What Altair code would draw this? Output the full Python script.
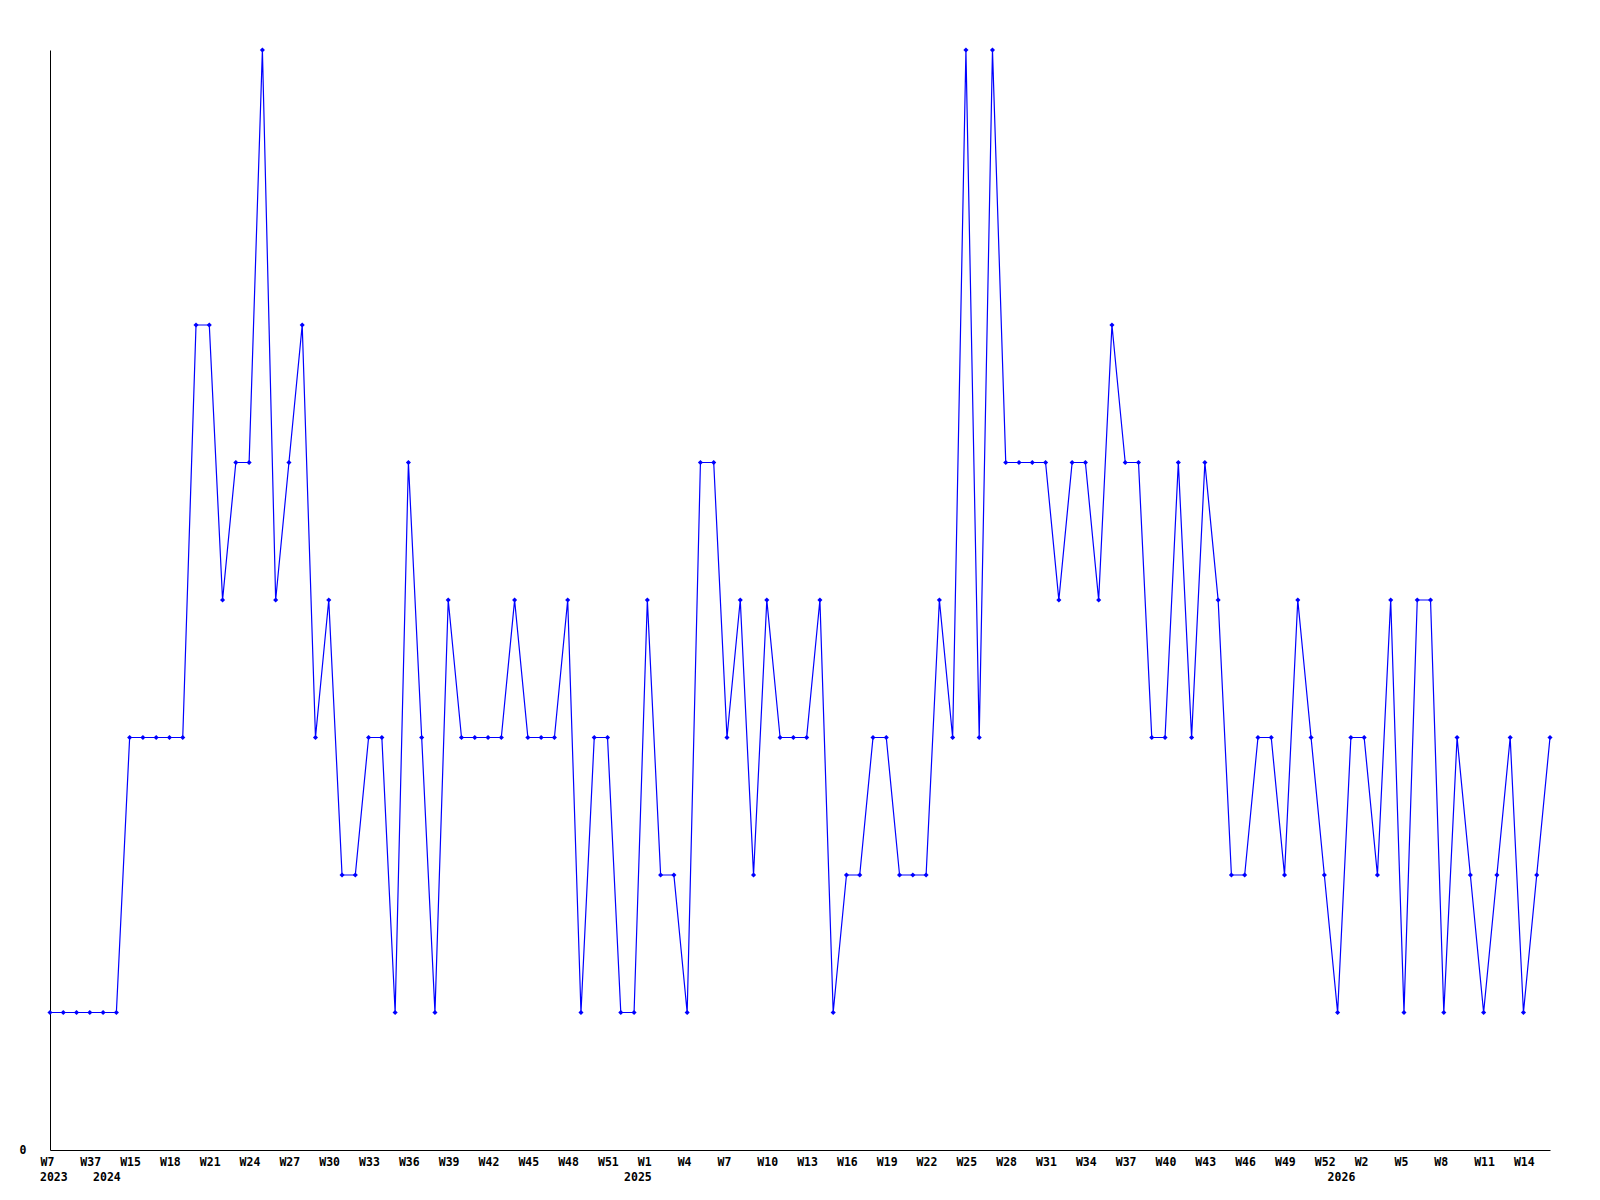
import altair as alt
import pandas as pd

# weekly values, one per point (evenly spaced on the x axis)
values = [
    1, 1, 1, 1, 1, 1,
    3, 3, 3, 3, 3,
    6, 6, 4, 5, 5, 8, 4, 5, 6, 3, 4, 2, 2, 3, 3, 1, 5, 3, 1, 4,
    3, 3, 3, 3, 4, 3, 3, 3, 4, 1, 3, 3, 1, 1, 4, 2, 2, 1, 5, 5,
    3, 4, 2, 4, 3, 3, 3, 4, 1, 2, 2, 3, 3, 2, 2, 2, 4, 3, 8, 3,
    8, 5, 5, 5, 5, 4, 5, 5, 4, 6, 5, 5, 3, 3, 5, 3, 5, 4, 2, 2,
    3, 3, 2, 4, 3, 2, 1, 3, 3, 2, 4, 1, 4, 4, 1, 3, 2, 1, 2, 3,
    1, 2, 3,
]

# x-axis week labels (every third point)
tick_labels = [
    "W7", "W37", "W15", "W18", "W21", "W24", "W27", "W30", "W33", "W36",
    "W39", "W42", "W45", "W48", "W51", "W1", "W4", "W7", "W10", "W13",
    "W16", "W19", "W22", "W25", "W28", "W31", "W34", "W37", "W40", "W43",
    "W46", "W49", "W52", "W2", "W5", "W8", "W11", "W14",
]
tick_index = list(range(0, len(values), 3))

# year labels and the point where each year starts
year_labels = ["2023", "2024", "2025", "2026"]
year_index = [0, 4, 44, 97]

df = pd.DataFrame({"i": list(range(len(values))), "v": values})
years = pd.DataFrame({"i": year_index, "year": year_labels})

FONT = "DejaVu Sans Mono"
W, H = 1500, 1100
n = len(values)
PAD = 6

label_expr = "[" + ",".join("'%s'" % t for t in tick_labels) + "][round(datum.value / 3)]"

xscale = alt.Scale(domain=[0, n - 1], nice=False, zero=False)
yscale = alt.Scale(domain=[0, 8], nice=False)

x_enc = alt.X(
    "i:Q",
    scale=xscale,
    axis=alt.Axis(
        values=tick_index,
        labelExpr=label_expr,
        title=None,
        grid=False,
        ticks=False,
        domainColor="black",
        domainWidth=1,
        labelFont=FONT,
        labelFontWeight="bold",
        labelFontSize=11.5,
        labelColor="black",
        labelAlign="left",
        labelOffset=-10,
        labelBaseline="top",
        labelPadding=PAD,
        labelOverlap=False,
        labelFlush=False,
    ),
)
y_enc = alt.Y(
    "v:Q",
    scale=yscale,
    axis=alt.Axis(
        values=[0],
        format="d",
        title=None,
        grid=False,
        ticks=False,
        domainColor="black",
        domainWidth=1,
        labelFont=FONT,
        labelFontWeight="bold",
        labelFontSize=11.5,
        labelColor="black",
        labelPadding=24,
        labelBaseline="middle",
    ),
)

line = alt.Chart(df).mark_line(color="#0000FF", strokeWidth=1.2).encode(x=x_enc, y=y_enc)
pts = alt.Chart(df).mark_point(
    shape="diamond", filled=True, color="#0000FF", size=26, opacity=1
).encode(x=alt.X("i:Q", scale=xscale), y=alt.Y("v:Q", scale=yscale))

year_text = alt.Chart(years).mark_text(
    font=FONT,
    fontWeight="bold",
    fontSize=11.5,
    color="black",
    align="left",
    baseline="top",
    dx=-10,
).encode(
    x=alt.X("i:Q", scale=xscale),
    y=alt.value(H + PAD + 15.5),
    text="year:N",
)

chart = (
    alt.layer(line, pts, year_text)
    .properties(
        width=W,
        height=H,
        autosize=alt.AutoSizeParams(type="none"),
        padding={"left": 42, "top": 42, "right": 20, "bottom": 50},
        background="white",
    )
    .configure_view(stroke=None)
)

chart.save("out.html", embed_options={"renderer": "svg", "actions": False})
